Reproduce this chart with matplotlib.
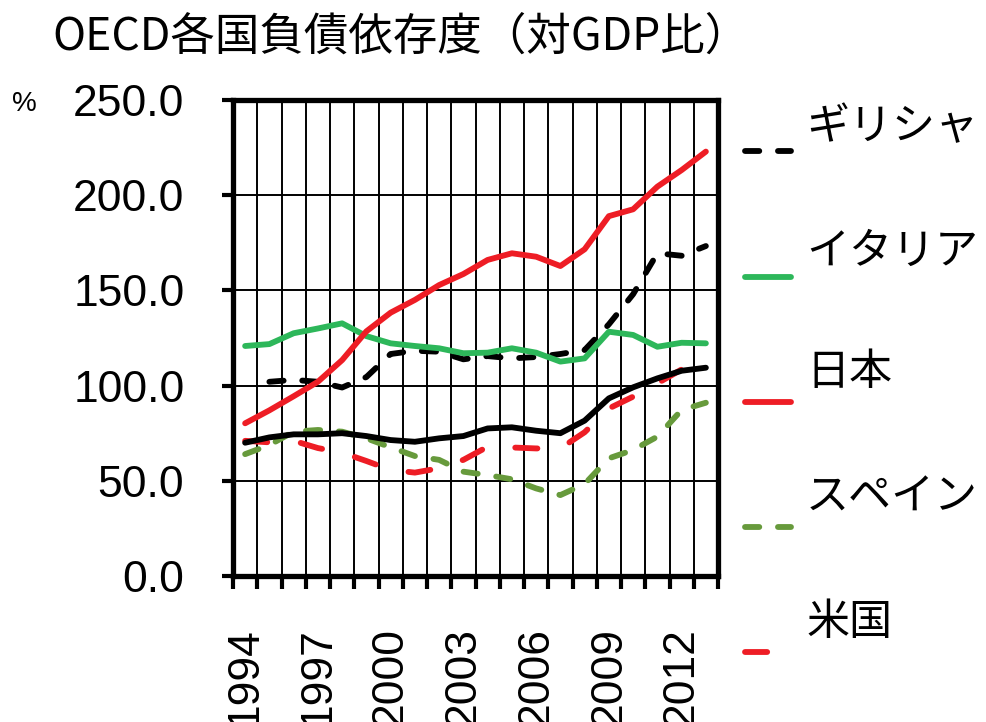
import numpy as np
import matplotlib
matplotlib.use('Agg')
import matplotlib.pyplot as plt
from matplotlib.lines import Line2D

plt.rcParams['font.family'] = ['Liberation Sans', 'Noto Sans CJK JP', 'DejaVu Sans']

years = list(range(1994, 2014))

greece = [np.nan, 102.0, 103.0, 102.0, 99.0, 104.5, 116.6, 118.3, 117.8, 113.8,
          115.5, 114.3, 115.0, 116.6, 118.7, 132.2, 148.0, 169.5, 168.2, 173.3]
italy = [120.8, 121.8, 127.5, 130.0, 132.7, 126.0, 122.2, 120.8, 119.6, 117.0,
         117.3, 119.6, 117.3, 112.6, 114.3, 128.3, 126.6, 120.4, 122.5, 122.2]
japan = [80.2, 87.0, 94.4, 102.0, 113.4, 128.5, 138.3, 145.0, 152.8, 158.6,
         166.0, 169.5, 167.7, 162.8, 171.6, 189.0, 192.6, 204.5, 213.2, 222.9]
spain = [64.0, 68.8, 75.8, 76.7, 75.8, 72.3, 67.6, 63.0, 61.0, 54.8,
         53.0, 50.8, 46.0, 42.5, 48.3, 61.8, 66.2, 73.2, 87.2, 91.0]
usa = [71.0, 70.2, 71.0, 67.2, 64.8, 60.4, 55.7, 54.3, 56.6, 61.0,
       67.9, 67.5, 67.0, 67.0, 75.5, 88.0, 94.2, 101.2, 108.5, 111.7]
# black solid series (its legend entry is cut off in the original)
oecd = [70.0, 72.8, 74.4, 74.4, 75.0, 73.5, 71.4, 70.5, 72.3, 73.5,
        77.5, 78.1, 76.3, 75.0, 81.6, 93.3, 99.1, 103.8, 107.8, 109.4]

names = ['ギリシャ', 'イタリア', '日本', 'スペイン', '米国']
colors = ['#000000', '#2DB75A', '#EE1D25', '#679A3C', '#EE1D25']
dash_short = (2.45, 3.2)
dash_long = (3.8, 5.8)
styles = [dash_short, None, None, dash_short, dash_long]
series = [greece, italy, japan, spain, usa]

LW = 4.2

fig = plt.figure(figsize=(9.86, 7.22), dpi=100)
ax = fig.add_axes([233 / 986, 146 / 722, 485 / 986, 476 / 722])

x = np.arange(len(years))


def draw(ax, xs, ys, color, dash, **kw):
    line = ax.plot(xs, ys, color=color, lw=LW, solid_capstyle='round',
                   dash_capstyle='round', solid_joinstyle='round', **kw)[0]
    if dash is not None:
        line.set_dashes(dash)
    return line


for ys, c, d in zip(series, colors, styles):
    draw(ax, x, ys, c, d, zorder=3)
draw(ax, x, oecd, '#000000', None, zorder=4)

ax.set_xlim(-0.5, len(years) - 0.5)
ax.set_ylim(0, 250)

ax.set_yticks(np.arange(0, 251, 50))
ax.set_yticklabels([f'{v:.1f}' for v in np.arange(0, 251, 50)], fontsize=32)

ax.set_xticks(x[::3])
ax.set_xticklabels([str(y) for y in years[::3]], rotation=90, fontsize=32)
ax.set_xticks(np.arange(-0.5, len(years)), minor=True)

ax.tick_params(axis='x', which='major', length=0, pad=37)
ax.tick_params(axis='x', which='minor', length=9, width=3, direction='out')
ax.tick_params(axis='y', which='major', length=8, width=3, pad=27)

ax.grid(True, axis='y', which='major', color='black', lw=1.4)
ax.grid(True, axis='x', which='minor', color='black', lw=1.4)
ax.set_axisbelow(True)

for s in ax.spines.values():
    s.set_linewidth(3.8)

# title and unit
fig.text(52 / 986, 1 - 37 / 722, 'OECD各国負債依存度（対GDP比）',
         fontsize=32, family=['Noto Sans CJK JP'], ha='left', va='center')
fig.text(12 / 986, 1 - 104 / 722, '%', fontsize=20, ha='left', va='center')

# legend (drawn by hand, the original is clipped)
text_y = [127, 252, 373, 498, 623]
handle_y = [151, 277, 402, 527, 652]
for name, c, d, ty, hy in zip(names, colors, styles, text_y, handle_y):
    fig.text(806 / 986, 1 - ty / 722, name, fontsize=31,
             family=['Noto Sans CJK JP'], ha='left', va='center')
    hx1 = 791 if name != '米国' else 777
    ln = Line2D([745 / 986, hx1 / 986], [1 - hy / 722, 1 - hy / 722],
                transform=fig.transFigure, color=c, lw=LW,
                solid_capstyle='round', dash_capstyle='round')
    if d is not None:
        ln.set_dashes(d)
    fig.add_artist(ln)

fig.savefig('out.png', dpi=100)
